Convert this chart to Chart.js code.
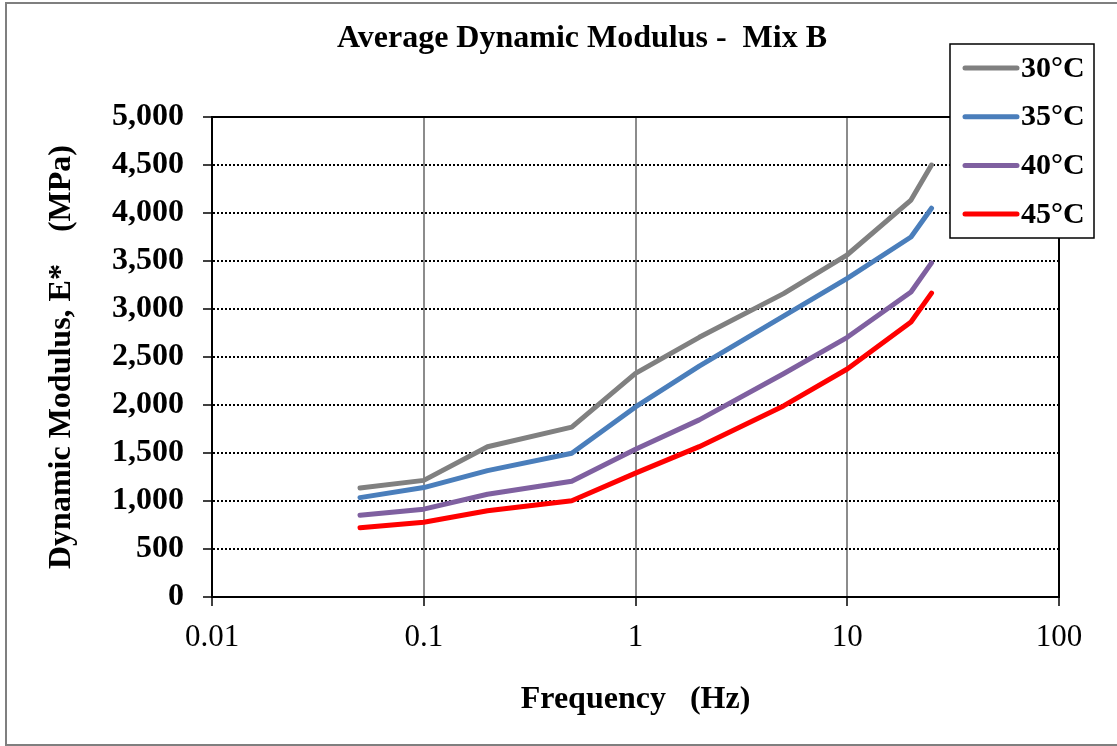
<!DOCTYPE html>
<html>
<head>
<meta charset="utf-8">
<script src="https://cdn.jsdelivr.net/npm/chart.js@4.4.0/dist/chart.umd.min.js"></script>
<style>
  body { margin: 0; background: #fff; }
  #wrap { position: relative; width: 1117px; height: 746px; overflow: hidden; }
  #marco { position: absolute; left: 5px; top: 2px; width: 1130px; height: 740px; border: 2px solid #7f7f7f; pointer-events: none; }
</style>
</head>
<body>
<div id="wrap">
  <canvas id="graficoModulo" width="1117" height="746"></canvas>
  <div id="marco"></div>
</div>
<script>
// Frecuencias de ensayo (Hz) y módulo dinámico promedio (MPa) por temperatura
const frecuencias = [0.05, 0.1, 0.2, 0.5, 1, 2, 5, 10, 20, 25];
const modulo30 = [1135, 1215, 1565, 1770, 2330, 2705, 3160, 3565, 4135, 4500];
const modulo35 = [1035, 1140, 1316, 1497, 1980, 2405, 2925, 3320, 3750, 4050];
const modulo40 = [852, 915, 1070, 1205, 1540, 1845, 2325, 2705, 3177, 3480];
const modulo45 = [722, 778, 898, 1003, 1290, 1566, 1990, 2375, 2865, 3165];

const etiquetas = ['30°C', '35°C', '40°C', '45°C'];
const colores = ['#808080', '#4a7ebb', '#7f60a0', '#ff0000'];

const ticksX = [0.01, 0.1, 1, 10, 100];
const ticksY = [0, 500, 1000, 1500, 2000, 2500, 3000, 3500, 4000, 4500, 5000];

const titulo = 'Average Dynamic Modulus -  Mix B';
const fuente = '"Liberation Serif", "Times New Roman", serif';

function puntos(valores) {
    return frecuencias.map((f, i) => ({ x: f, y: valores[i] }));
}

const series = [modulo30, modulo35, modulo40, modulo45].map((valores, i) => ({
    label: etiquetas[i],
    data: puntos(valores),
    borderColor: colores[i],
    backgroundColor: colores[i],
    borderWidth: 5,
    borderCapStyle: 'round',
    borderJoinStyle: 'round',
    pointRadius: 0,
    tension: 0,
    fill: false
}));

// Título, marco del área de trazado y leyenda dibujados a mano
const extras = {
    id: 'extras',
    afterDraw(chart) {
        const ctx = chart.ctx;
        const area = chart.chartArea;
        ctx.save();

        ctx.strokeStyle = '#000';
        ctx.lineWidth = 2;
        ctx.setLineDash([]);
        ctx.strokeRect(area.left, area.top, area.right - area.left, area.bottom - area.top);

        ctx.fillStyle = '#000';
        ctx.font = 'bold 32px ' + fuente;
        ctx.textAlign = 'center';
        ctx.textBaseline = 'middle';
        ctx.fillText(titulo, 582, 39);

        // leyenda
        ctx.fillStyle = '#fff';
        ctx.fillRect(950, 44, 144, 194);
        ctx.strokeStyle = '#000';
        ctx.lineWidth = 1.5;
        ctx.strokeRect(950, 44, 144, 194);
        ctx.font = 'bold 30px ' + fuente;
        ctx.textAlign = 'left';
        chart.data.datasets.forEach((ds, i) => {
            const y = 68 + i * 48.7;
            ctx.strokeStyle = ds.borderColor;
            ctx.lineWidth = 5;
            ctx.lineCap = 'round';
            ctx.beginPath();
            ctx.moveTo(965, y);
            ctx.lineTo(1017, y);
            ctx.stroke();
            ctx.fillStyle = '#000';
            ctx.fillText(ds.label, 1021, y + 1);
        });
        ctx.restore();
    }
};

const ctx = document.getElementById('graficoModulo').getContext('2d');
const grafico = new Chart(ctx, {
    type: 'line',
    data: { datasets: series },
    plugins: [extras],
    options: {
        responsive: false,
        animation: false,
        devicePixelRatio: 1,
        layout: { padding: { top: 117, right: 58, left: 0, bottom: 0 } },
        plugins: {
            legend: { display: false },
            title: { display: false },
            tooltip: { enabled: false }
        },
        scales: {
            x: {
                type: 'logarithmic',
                min: 0.01,
                max: 100,
                afterBuildTicks: (s) => { s.ticks = ticksX.map(v => ({ value: v })); },
                afterFit: (s) => { s.height = 149; },
                ticks: {
                    autoSkip: false,
                    maxRotation: 0,
                    color: '#000',
                    padding: 13,
                    font: { family: fuente, size: 31 },
                    callback: (v) => String(v)
                },
                grid: { color: '#8c8c8c', lineWidth: 2, tickColor: '#000', tickLength: 9, tickWidth: 1.5 },
                border: { color: '#000', width: 2 },
                title: {
                    display: true,
                    text: 'Frequency   (Hz)',
                    color: '#000',
                    font: { family: fuente, size: 32, weight: 'bold' },
                    padding: { top: 0, bottom: 27 }
                }
            },
            y: {
                min: 0,
                max: 5000,
                afterBuildTicks: (s) => { s.ticks = ticksY.map(v => ({ value: v })); },
                afterFit: (s) => { s.width = 212; },
                ticks: {
                    autoSkip: false,
                    color: '#000',
                    padding: 19,
                    font: { family: fuente, size: 32, weight: 'bold' },
                    callback: (v) => v.toLocaleString('en-US')
                },
                grid: { color: '#000', lineWidth: 2, tickColor: '#000', tickLength: 9, tickWidth: 1.5, tickBorderDash: [] },
                border: { color: '#000', width: 2, dash: [2, 2] },
                title: {
                    display: true,
                    text: 'Dynamic Modulus, E*    (MPa)',
                    color: '#000',
                    font: { family: fuente, size: 32, weight: 'bold' },
                    padding: { top: 43, bottom: 0 }
                }
            }
        }
    }
});
</script>
</body>
</html>
